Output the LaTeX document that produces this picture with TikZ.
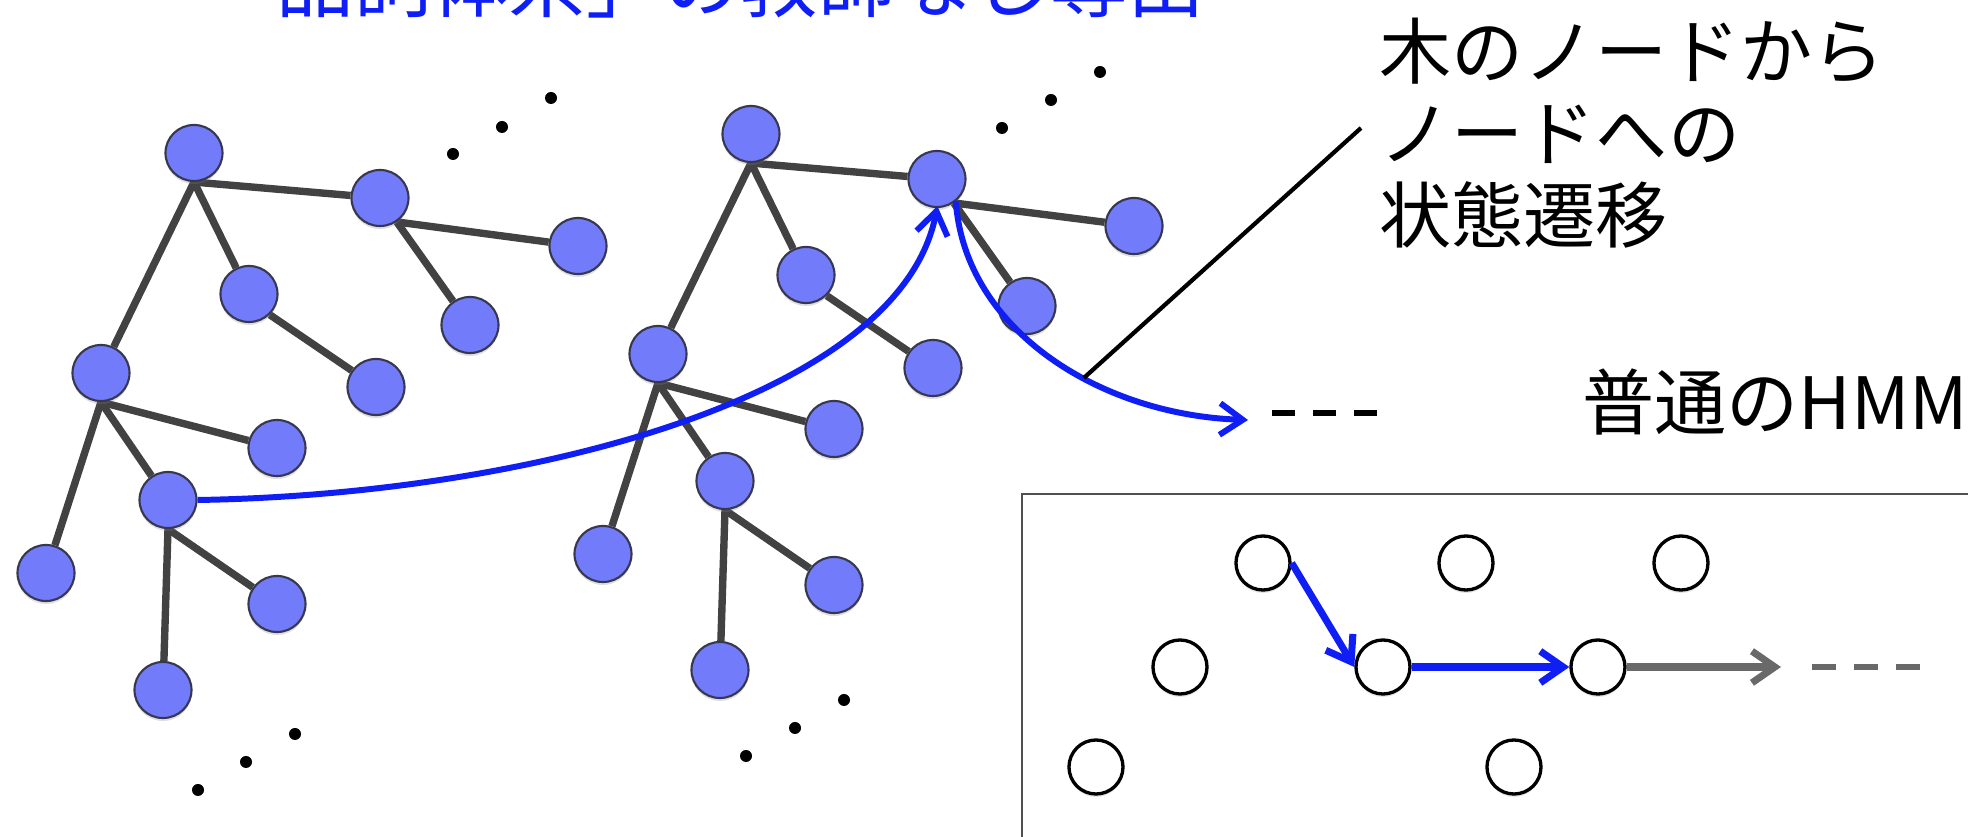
\documentclass[tikz,border=0pt]{standalone}
\usepackage{fontspec}
\setmainfont{Noto Sans CJK JP}
\usetikzlibrary{shapes.geometric,arrows.meta,shadows}
\definecolor{nodefill}{RGB}{114,124,250}
\definecolor{nodeline}{RGB}{55,55,80}
\definecolor{edgegray}{RGB}{66,66,66}
\definecolor{myblue}{RGB}{15,30,245}
\definecolor{arrgray}{RGB}{105,105,105}
\definecolor{boxgray}{RGB}{80,80,80}
\pgfdeclarelayer{bg}
\pgfsetlayers{bg,main}
\tikzset{
  tnode/.style={ellipse, draw=nodeline, line width=0.6pt, fill=nodefill,
    minimum width=0.57cm, minimum height=0.56cm, inner sep=0pt,
    drop shadow={shadow xshift=0pt, shadow yshift=-0.03cm, opacity=0.25}},
  hnode/.style={circle, draw=black, line width=0.95pt, fill=white,
    minimum size=0.54cm, inner sep=0pt,
    drop shadow={shadow xshift=0pt, shadow yshift=-0.03cm, opacity=0.2}},
  tedge/.style={draw=edgegray, line width=2.1pt},
  tdot/.style={circle, fill=black, minimum size=0.12cm, inner sep=0pt},
  barb/.style={-{Straight Barb[length=6.5pt,width=9pt]}},
  barrow/.style={draw=myblue, line width=1.7pt, barb},
  harrow/.style={draw=myblue, line width=2pt, barb},
  garrow/.style={draw=arrgray, line width=2pt, barb},
  pointer/.style={draw=black, line width=1.2pt},
  blackdash/.style={draw=black, line width=1.8pt, dash pattern=on 6.5pt off 5.2pt},
  graydash/.style={draw=arrgray, line width=1.8pt, dash pattern=on 6.8pt off 5.1pt},
  titletext/.style={anchor=base west, inner sep=0pt, text=myblue, font=\fontsize{22pt}{26pt}\selectfont},
  notetext/.style={inner sep=0pt, align=left, font=\fontsize{20.5pt}{23.3pt}\selectfont},
}
\begin{document}
\begin{tikzpicture}[x=0.01cm,y=-0.01cm]
\useasboundingbox (0,0) rectangle (1968,837);
\clip (0,0) rectangle (1968,837);
\begin{pgfonlayer}{bg}
  \fill[white] (0,0) rectangle (1968,837);
\end{pgfonlayer}

% title (cut off at the top)
\node[titletext] (title) at (276,12) {品詞体系」の教師なし導出};

% ---------- tree 1 ----------
\node[tnode] (a1) at (194,153) {};
\node[tnode] (b1) at (380,198) {};
\node[tnode] (c1) at (578,246) {};
\node[tnode] (d1) at (249,294) {};
\node[tnode] (e1) at (470,325) {};
\node[tnode] (f1) at (376,387) {};
\node[tnode] (g1) at (101,373) {};
\node[tnode] (h1) at (277,448) {};
\node[tnode] (i1) at (168,500) {};
\node[tnode] (j1) at (46,573) {};
\node[tnode] (k1) at (277,604) {};
\node[tnode] (l1) at (163,690) {};

% ---------- tree 2 ----------
\node[tnode] (a2) at (751,134) {};
\node[tnode] (b2) at (937,179) {};
\node[tnode] (c2) at (1134,226) {};
\node[tnode] (d2) at (806,275) {};
\node[tnode] (e2) at (1027,306) {};
\node[tnode] (f2) at (933,368) {};
\node[tnode] (g2) at (658,354) {};
\node[tnode] (h2) at (834,429) {};
\node[tnode] (i2) at (725,481) {};
\node[tnode] (j2) at (603,554) {};
\node[tnode] (k2) at (834,585) {};
\node[tnode] (l2) at (720,670) {};

\begin{pgfonlayer}{bg}
  \foreach \t in {1,2}{
    \draw[tedge] (a\t.south) -- (b\t);
    \draw[tedge] (a\t.south) -- (d\t);
    \draw[tedge] (a\t.south) -- (g\t);
    \draw[tedge] (b\t.-55) -- (c\t);
    \draw[tedge] (b\t.-55) -- (e\t);
    \draw[tedge] (d\t.-45) -- (f\t);
    \draw[tedge] (g\t.south) -- (h\t);
    \draw[tedge] (g\t.south) -- (i\t);
    \draw[tedge] (g\t.south) -- (j\t);
    \draw[tedge] (i\t.south) -- (k\t);
    \draw[tedge] (i\t.south) -- (l\t);
  }
\end{pgfonlayer}

% ellipsis dots
\node[tdot] (p1) at (453,154) {};
\node[tdot] (p2) at (502,127) {};
\node[tdot] (p3) at (551,98) {};
\node[tdot] (q1) at (198,790) {};
\node[tdot] (q2) at (246,762) {};
\node[tdot] (q3) at (295,734) {};
\node[tdot] (r1) at (1002,128) {};
\node[tdot] (r2) at (1051,100) {};
\node[tdot] (r3) at (1100,72) {};
\node[tdot] (s1) at (746,756) {};
\node[tdot] (s2) at (795,728) {};
\node[tdot] (s3) at (844,700) {};

% texts on the right
\node[notetext, anchor=north west] (trans) at (1379,17) {木のノードから\\ノードへの\\状態遷移};
\node[notetext, anchor=base west] (hmm) at (1582,430) {普通のHMM};

% transitions between tree nodes
\coordinate (t2end) at (1248,420);
\coordinate (ptrend) at (1361,128);
\draw[barrow, shorten >=-0.02cm] (i1.east) .. controls (520,495) and (900,400) .. (b2.south);
\draw[barrow] (b2.-50) .. controls (965,330) and (1100,415) .. (t2end) coordinate[pos=0.6] (ptr);
\draw[pointer] (ptr) -- (ptrend);
\coordinate (bd1) at (1272,413);
\coordinate (bd2) at (1379,413);
\draw[blackdash] (bd1) -- (bd2);

% ---------- ordinary HMM inset ----------
\draw[boxgray, line width=0.8pt] (1022,850) -- (1022,494) -- (1980,494);
\node[hnode] (h1c) at (1263,563) {};
\node[hnode] (h2c) at (1466,563) {};
\node[hnode] (h3c) at (1681,563) {};
\node[hnode] (h4c) at (1180,667) {};
\node[hnode] (h5c) at (1383,667) {};
\node[hnode] (h6c) at (1598,667) {};
\node[hnode] (h7c) at (1096,767) {};
\node[hnode] (h8c) at (1514,767) {};
\coordinate (gend) at (1781,667);
\coordinate (gd1) at (1812,667);
\coordinate (gd2) at (1920,667);
\draw[harrow] (h1c.east) -- (h5c.west);
\draw[harrow] (h5c.east) -- (h6c.west);
\draw[garrow] (h6c.east) -- (gend);
\draw[graydash] (gd1) -- (gd2);
\end{tikzpicture}
\end{document}
